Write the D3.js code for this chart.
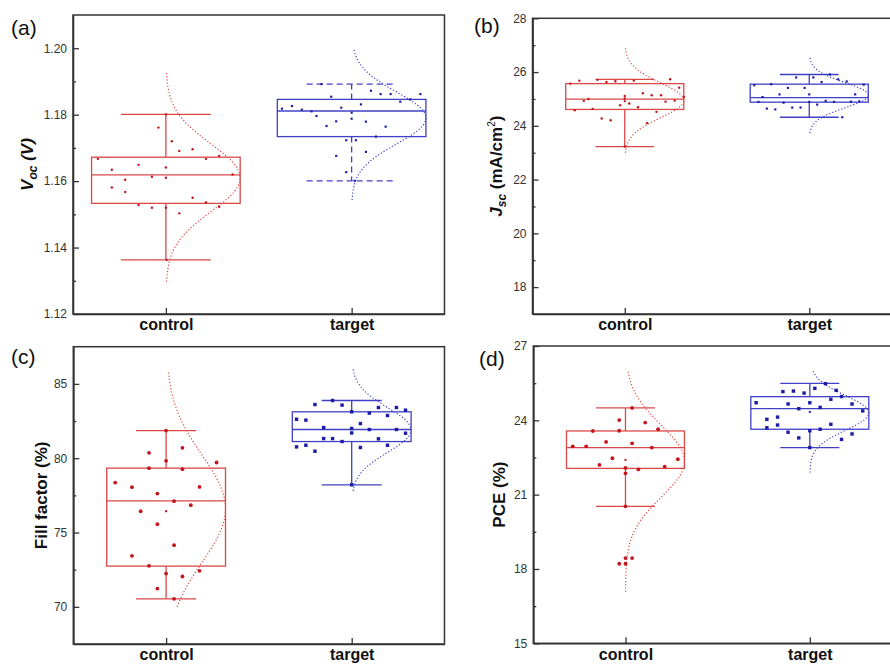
<!DOCTYPE html>
<html>
<head>
<meta charset="utf-8">
<script src="https://cdn.jsdelivr.net/npm/d3@7"></script>
<style>
  body { margin: 0; background: #fff; }
  svg { font-family: "Liberation Sans", Arial, sans-serif; }
</style>
</head>
<body>
<script>
var categories = ["control", "target"];

// box stats: [whisker low, q1, median, q3, whisker high]
// fit: [mean, sd, from, to]   points: [x jitter (category units), value]
var vocBoxControl = [1.1363, 1.1533, 1.1619, 1.1672, 1.1801];
var vocBoxTarget = [1.1601, 1.1734, 1.1811, 1.1846, 1.1892];
var vocFitControl = [1.161, 0.0102, 1.1297, 1.1927];
var vocFitTarget = [1.179, 0.0078, 1.1543, 1.20];
var vocPtsControl = [[-0.366,1.1667],[-0.291,1.1634],[-0.291,1.1581],[-0.219,1.1604],[-0.219,1.1567],[-0.147,1.1649],[-0.147,1.1528],[-0.075,1.1613],[-0.075,1.1520],[-0.040,1.1761],[0,1.1801],[0,1.1641],[0,1.1610],[0,1.1520],[0.032,1.1720],[0.072,1.1691],[0.072,1.1503],[0.144,1.1696],[0.144,1.1550],[0.216,1.1667],[0.216,1.1536],[0.287,1.1676],[0.287,1.1523],[0.359,1.1620],[0.004,1.1363]];
var vocPtsTarget = [[-0.375,1.1818],[-0.321,1.1826],[-0.268,1.1815],[-0.216,1.1810],[-0.189,1.1796],[-0.162,1.1892],[-0.135,1.1766],[-0.110,1.1854],[-0.083,1.1780],[-0.083,1.1676],[-0.056,1.1821],[-0.029,1.1723],[-0.029,1.1627],[0,1.1806],[0,1.1788],[0.023,1.1723],[0.016,1.1601],[0.05,1.1831],[0.077,1.1779],[0.077,1.1688],[0.104,1.1872],[0.131,1.1734],[0.156,1.1862],[0.183,1.1764],[0.21,1.1862],[0.262,1.1839],[0.316,1.1846],[0.37,1.1862]];

var jscBoxControl = [23.23, 24.61, 24.99, 25.57, 25.73];
var jscBoxTarget = [24.32, 24.88, 25.05, 25.55, 25.91];
var jscFitControl = [24.95, 0.65, 23.0, 26.89];
var jscFitTarget = [25.14, 0.47, 23.73, 26.55];
var jscPtsControl = [[-0.295,25.57],[-0.246,25.68],[-0.222,24.93],[-0.197,25.00],[-0.271,24.58],[-0.174,24.63],[-0.148,25.71],[-0.125,24.27],[-0.099,25.63],[-0.076,24.21],[-0.051,25.66],[-0.025,24.77],[0,25.11],[0,25.02],[0,24.92],[0.024,24.83],[0.049,25.68],[0.072,24.69],[0.098,25.21],[0.121,24.10],[0.146,25.14],[0.172,24.52],[0.197,25.14],[0.221,24.90],[0.246,25.73],[0.271,24.94],[0.295,25.42],[0.32,25.07],[0,23.23]];
var jscPtsTarget = [[-0.298,25.51],[-0.275,24.89],[-0.253,25.07],[-0.23,24.64],[-0.206,25.55],[-0.184,24.61],[-0.161,25.17],[-0.139,24.86],[-0.116,25.41],[-0.092,24.68],[-0.071,25.80],[-0.047,24.68],[-0.025,25.41],[0,25.17],[0,24.89],[0.022,25.80],[0.043,24.79],[0.067,25.63],[0.089,24.93],[0.112,25.91],[0.134,24.89],[0.157,25.73],[0.179,24.32],[0.203,25.65],[0.226,24.90],[0.249,25.17],[0.271,24.91],[0.295,25.53]];

var ffBoxControl = [70.54, 72.74, 77.13, 79.33, 81.86];
var ffBoxTarget = [78.21, 81.12, 81.93, 83.12, 83.88];
var ffFitControl = [76.6, 3.6, 70.0, 85.9];
var ffFitTarget = [81.9, 1.5, 77.8, 86.0];
var ffMeans = [76.43, null];
var ffPtsControl = [[-0.274,78.36],[-0.184,78.05],[-0.184,73.43],[-0.137,76.43],[-0.092,80.36],[-0.092,79.33],[-0.092,72.76],[-0.047,77.62],[-0.047,75.56],[-0.047,71.23],[0,81.86],[0,79.82],[0,72.24],[0.043,77.11],[0.043,74.15],[0.043,70.54],[0.088,80.70],[0.088,79.26],[0.088,72.04],[0.133,76.84],[0.18,78.07],[0.18,72.42],[0.272,79.71]];
var ffPtsTarget = [[-0.297,82.62],[-0.297,80.76],[-0.247,82.56],[-0.247,80.87],[-0.198,83.61],[-0.198,80.47],[-0.151,82.06],[-0.151,81.32],[-0.103,83.88],[-0.103,81.32],[-0.052,83.57],[-0.052,81.12],[0,83.12],[0,82.0],[0,81.70],[0,78.21],[0.047,82.33],[0.047,80.72],[0.095,83.03],[0.095,81.93],[0.144,83.41],[0.144,81.30],[0.193,82.87],[0.193,80.87],[0.241,83.41],[0.241,81.93],[0.29,83.23],[0.29,81.68]];

var pceBoxControl = [20.53, 22.06, 22.90, 23.57, 24.50];
var pceBoxTarget = [22.90, 23.64, 24.47, 24.955, 25.49];
var pceFitControl = [22.35, 1.45, 17.08, 26.0];
var pceFitTarget = [24.3, 0.7, 21.89, 25.99];
var pceMeans = [22.40, 24.34];
var pcePtsControl = [[-0.286,22.95],[-0.213,22.95],[-0.177,23.57],[-0.141,22.20],[-0.105,23.13],[-0.071,22.47],[-0.034,24.01],[-0.034,23.58],[-0.034,18.21],[0,22.08],[0,21.86],[0,20.53],[0,18.44],[0,18.21],[0.036,24.50],[0.036,23.07],[0.036,18.44],[0.07,22.02],[0.107,23.91],[0.143,22.90],[0.177,23.64],[0.213,22.13],[0.284,22.43]];
var pcePtsTarget = [[-0.291,24.71],[-0.233,24.04],[-0.233,23.70],[-0.175,24.13],[-0.175,23.81],[-0.146,25.16],[-0.118,24.66],[-0.118,23.52],[-0.089,25.18],[-0.06,24.47],[-0.06,23.29],[-0.031,25.10],[0,24.71],[0,23.58],[0,22.90],[0.027,25.29],[0.056,24.52],[0.056,23.64],[0.085,25.48],[0.114,24.85],[0.114,23.84],[0.143,25.21],[0.172,24.96],[0.172,23.23],[0.229,24.66],[0.229,23.45],[0.287,24.38]];

var colors = { line: ["#da4848", "#4040c6"], dot: ["#c4141c", "#1c1ca6"] };

var svg = d3.select("body").append("svg")
    .attr("width", 890)
    .attr("height", 665);

function drawPanel(p) {
    var x = d3.scaleLinear().domain([0.5, 2.5]).range([p.left, p.right]);
    var y = d3.scaleLinear().domain(p.domain).range([p.bottom, p.top]);
    var g = svg.append("g");

    p.groups.forEach(function (grp, i) {
        var cx = i + 1, b = grp.box;
        var col = colors.line[i];
        //normal curve, zero at the box center, peak at the box edge
        var f = grp.fit;
        var vals = d3.range(f[2], f[3], (f[3] - f[2]) / 120).concat([f[3]]);
        g.append("path")
            .datum(vals)
            .attr("fill", "none")
            .attr("stroke", col)
            .attr("stroke-width", 1.2)
            .attr("stroke-dasharray", "1.2,2")
            .attr("d", d3.line()
                .x(v => x(cx + p.boxW * Math.exp(-0.5 * Math.pow((v - f[0]) / f[1], 2))))
                .y(v => y(v)));

        //box
        g.append("rect")
            .attr("x", x(cx - p.boxW))
            .attr("y", y(b[3]))
            .attr("width", x(cx + p.boxW) - x(cx - p.boxW))
            .attr("height", y(b[1]) - y(b[3]))
            .attr("fill", "none")
            .attr("stroke", col)
            .attr("stroke-width", 1.3);
        g.append("line")
            .attr("x1", x(cx - p.boxW)).attr("x2", x(cx + p.boxW))
            .attr("y1", y(b[2])).attr("y2", y(b[2]))
            .attr("stroke", col).attr("stroke-width", 1.3);

        //whiskers
        var dash = grp.dashed ? "6,4" : null;
        [[b[3], b[4]], [b[1], b[0]]].forEach(function (w) {
            g.append("line")
                .attr("x1", x(cx)).attr("x2", x(cx))
                .attr("y1", y(w[0])).attr("y2", y(w[1]))
                .attr("stroke", col).attr("stroke-width", 1.3)
                .attr("stroke-dasharray", dash);
            g.append("line")
                .attr("x1", x(cx - p.capW)).attr("x2", x(cx + p.capW))
                .attr("y1", y(w[1])).attr("y2", y(w[1]))
                .attr("stroke", col).attr("stroke-width", 1.3)
                .attr("stroke-dasharray", dash);
        });

        //points: circles for control, squares for target
        if (i == 0) {
            g.selectAll(".pt" + i)
                .data(grp.pts)
                .enter().append("circle")
                .attr("cx", d => x(cx + d[0]))
                .attr("cy", d => y(d[1]))
                .attr("r", p.r)
                .attr("fill", colors.dot[i]);
        } else {
            var s = p.r * 1.8;
            g.selectAll(".pt" + i)
                .data(grp.pts)
                .enter().append("rect")
                .attr("x", d => x(cx + d[0]) - s / 2)
                .attr("y", d => y(d[1]) - s / 2)
                .attr("width", s).attr("height", s)
                .attr("fill", colors.dot[i]);
        }

        if (grp.mean != null) {
            g.append("circle")
                .attr("cx", x(cx)).attr("cy", y(grp.mean))
                .attr("r", p.r * 0.6)
                .attr("fill", colors.dot[i]);
        }
    });

    //Y axis, ticks inward
    var yAxis = g.append("g")
        .attr("transform", "translate(" + p.left + ",0)")
        .call(d3.axisLeft(y).tickValues(p.major).tickSizeInner(-6).tickSizeOuter(0)
            .tickPadding(6).tickFormat(d3.format(p.fmt)));
    yAxis.selectAll("text").attr("font-size", 12).attr("fill", "#333").attr("font-family", null);
    g.append("g")
        .attr("transform", "translate(" + p.left + ",0)")
        .call(d3.axisLeft(y).tickValues(p.minor).tickSizeInner(-3).tickSizeOuter(0).tickFormat(""));

    //X axis
    var xAxis = g.append("g")
        .attr("transform", "translate(0," + p.bottom + ")")
        .call(d3.axisBottom(x).tickValues([1, 2]).tickSizeInner(-6).tickSizeOuter(0)
            .tickPadding(5).tickFormat(d => categories[d - 1]));
    xAxis.selectAll("text")
        .attr("font-size", 16).attr("font-weight", "bold")
        .attr("fill", "#111").attr("font-family", null);

    g.selectAll(".domain, .tick line").attr("stroke", "#333").attr("stroke-width", 1.3);

    //frame
    g.append("rect")
        .attr("x", p.left).attr("y", p.top)
        .attr("width", p.right - p.left).attr("height", p.bottom - p.top)
        .attr("fill", "none").attr("stroke", "#333").attr("stroke-width", 1.5);

    //panel letter
    g.append("text")
        .attr("x", p.tagX).attr("y", p.tagY)
        .attr("font-size", 21).attr("fill", "#111")
        .text(p.tag);

    //axis title
    var t = g.append("text")
        .attr("transform", "translate(" + p.titleX + "," + ((p.top + p.bottom) / 2) + ") rotate(-90)")
        .attr("text-anchor", "middle")
        .attr("font-size", 17).attr("font-weight", "bold").attr("fill", "#111");
    p.title.forEach(function (s) {
        var ts = t.append("tspan").text(s.t);
        if (s.i) ts.attr("font-style", "italic");
        if (s.sub) ts.attr("font-size", 12).attr("dy", 4);
        if (s.sup) ts.attr("font-size", 10).attr("dy", -7).attr("font-weight", "normal");
        if (s.back) ts.attr("dy", s.back);
    });
}

drawPanel({
    tag: "(a)", tagX: 11, tagY: 35,
    left: 73, right: 444.5, top: 15, bottom: 314,
    domain: [1.12, 1.21], major: [1.12, 1.14, 1.16, 1.18, 1.20], minor: [1.13, 1.15, 1.17, 1.19], fmt: ".2f",
    boxW: 0.4, capW: 0.242, r: 1.2, titleX: 33,
    title: [{ t: "V", i: true }, { t: "oc", i: true, sub: true }, { t: " (V)", i: true, back: -4 }],
    groups: [
        { box: vocBoxControl, fit: vocFitControl, pts: vocPtsControl },
        { box: vocBoxTarget, fit: vocFitTarget, pts: vocPtsTarget, dashed: true }
    ]
});

drawPanel({
    tag: "(b)", tagX: 474, tagY: 33,
    left: 532.5, right: 901.5, top: 18.3, bottom: 314,
    domain: [17, 28], major: [18, 20, 22, 24, 26, 28], minor: [19, 21, 23, 25, 27], fmt: "d",
    boxW: 0.32, capW: 0.159, r: 1.2, titleX: 502,
    title: [{ t: "J", i: true }, { t: "sc", i: true, sub: true }, { t: " (mA/cm", back: -4 }, { t: "2", sup: true }, { t: ")", back: 7 }],
    groups: [
        { box: jscBoxControl, fit: jscFitControl, pts: jscPtsControl },
        { box: jscBoxTarget, fit: jscFitTarget, pts: jscPtsTarget }
    ]
});

drawPanel({
    tag: "(c)", tagX: 11, tagY: 364,
    left: 73.3, right: 444.5, top: 346.7, bottom: 644,
    domain: [67.5, 87.5], major: [70, 75, 80, 85], minor: [72.5, 77.5, 82.5], fmt: "d",
    boxW: 0.32, capW: 0.162, r: 1.9, titleX: 47,
    title: [{ t: "Fill factor (%)" }],
    groups: [
        { box: ffBoxControl, fit: ffFitControl, pts: ffPtsControl, mean: ffMeans[0] },
        { box: ffBoxTarget, fit: ffFitTarget, pts: ffPtsTarget, mean: ffMeans[1] }
    ]
});

drawPanel({
    tag: "(d)", tagX: 479, tagY: 366,
    left: 533.3, right: 902, top: 346, bottom: 643.3,
    domain: [15, 27], major: [15, 18, 21, 24, 27], minor: [16.5, 19.5, 22.5, 25.5], fmt: "d",
    boxW: 0.32, capW: 0.16, r: 1.9, titleX: 505,
    title: [{ t: "PCE (%)" }],
    groups: [
        { box: pceBoxControl, fit: pceFitControl, pts: pcePtsControl, mean: pceMeans[0] },
        { box: pceBoxTarget, fit: pceFitTarget, pts: pcePtsTarget, mean: pceMeans[1] }
    ]
});
</script>
</body>
</html>
